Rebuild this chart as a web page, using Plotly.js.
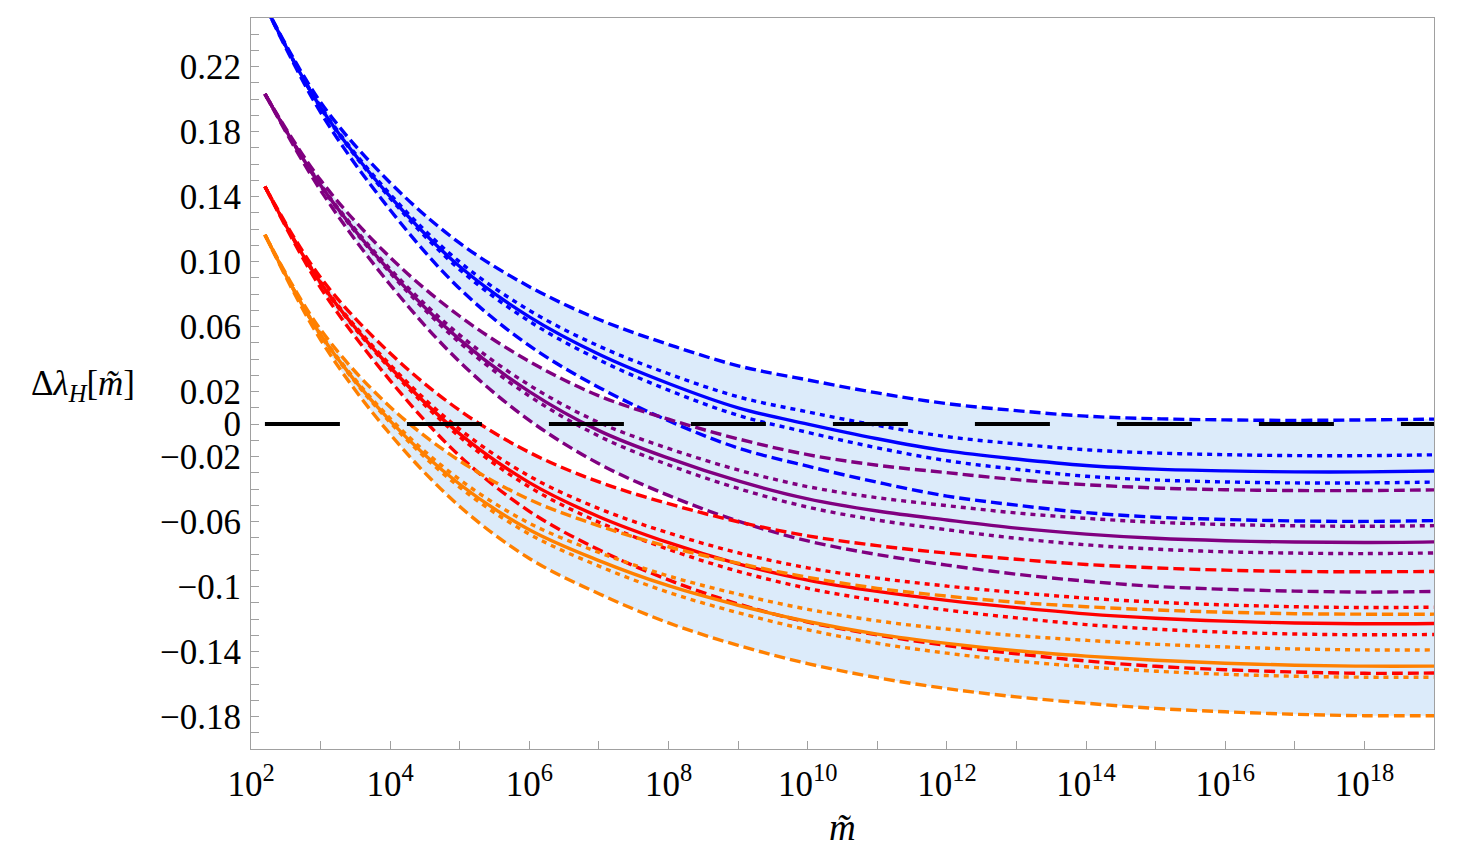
<!DOCTYPE html>
<html>
<head>
<meta charset="utf-8">
<script src="https://cdn.plot.ly/plotly-3.0.1.min.js"></script>
<style>html,body{margin:0;padding:0;background:#fff;}#plot{width:1459px;height:855px;}</style>
</head>
<body>
<div id="plot"></div>
<script>
// x values (m-tilde)
const m = [158.5, 1e3, 1e4, 1e5, 1e6, 1e7, 1e8, 1e9, 1e10, 1e11, 1e12, 1e13, 1e14, 1e15, 1e16, 1e17, 1e18, 1e19];

// Blue group
const blueDashUp  = [0.258, 0.1982, 0.1486, 0.1114, 0.0846, 0.0644, 0.049, 0.0359, 0.0272, 0.0192, 0.0126, 0.0083, 0.0049, 0.0033, 0.0026, 0.0023, 0.0026, 0.0031];
const blueDotUp   = [0.258, 0.1955, 0.1415, 0.0998, 0.070, 0.048, 0.031, 0.0168, 0.0075, -0.0008, -0.0077, -0.0122, -0.0158, -0.0178, -0.0188, -0.0194, -0.0194, -0.0189];
const blueSolid   = [0.258, 0.195, 0.140, 0.097, 0.066, 0.043, 0.025, 0.010, 0.000, -0.009, -0.0165, -0.0215, -0.0255, -0.0277, -0.0288, -0.0294, -0.0294, -0.0289];
const blueDotLow  = [0.258, 0.1947, 0.139, 0.0951, 0.0633, 0.0396, 0.0209, 0.0054, -0.0051, -0.0146, -0.0225, -0.0278, -0.0321, -0.0344, -0.0356, -0.0362, -0.0362, -0.0357];
const blueDashLow = [0.258, 0.1919, 0.1318, 0.0833, 0.0483, 0.0226, 0.0021, -0.0147, -0.0259, -0.0358, -0.0443, -0.0499, -0.0545, -0.0573, -0.0587, -0.0596, -0.0599, -0.0594];

// Purple group
const purpleDashUp  = [0.2033, 0.1502, 0.1026, 0.0664, 0.0386, 0.0174, 0.003, -0.0091, -0.0188, -0.0253, -0.0299, -0.0342, -0.0373, -0.0393, -0.0404, -0.0409, -0.0409, -0.0405];
const purpleDotUp   = [0.2033, 0.1475, 0.0955, 0.0548, 0.024, 0.001, -0.015, -0.0282, -0.0385, -0.0453, -0.0502, -0.0547, -0.058, -0.0604, -0.0618, -0.0626, -0.0629, -0.0625];
const purpleSolid   = [0.2033, 0.147, 0.094, 0.052, 0.020, -0.004, -0.021, -0.035, -0.046, -0.0535, -0.059, -0.064, -0.0677, -0.0703, -0.0718, -0.0726, -0.0729, -0.0725];
const purpleDotLow  = [0.2033, 0.1467, 0.093, 0.0501, 0.0173, -0.0074, -0.0251, -0.0396, -0.0511, -0.0591, -0.065, -0.0703, -0.0743, -0.077, -0.0786, -0.0794, -0.0797, -0.0793];
const purpleDashLow = [0.2033, 0.1439, 0.0858, 0.0383, 0.0023, -0.0244, -0.0439, -0.0597, -0.0719, -0.0803, -0.0868, -0.0924, -0.0967, -0.0999, -0.1017, -0.1028, -0.1034, -0.103];

// Red group
const redDashUp  = [0.1463, 0.0902, 0.0436, 0.0084, -0.0174, -0.0356, -0.049, -0.0601, -0.0688, -0.0748, -0.0794, -0.0832, -0.0864, -0.0885, -0.0899, -0.0907, -0.0909, -0.0907];
const redDotUp   = [0.1463, 0.0875, 0.0365, -0.0032, -0.032, -0.052, -0.067, -0.0792, -0.0885, -0.0948, -0.0997, -0.1037, -0.1071, -0.1096, -0.1113, -0.1124, -0.1129, -0.1127];
const redSolid   = [0.1463, 0.087, 0.035, -0.006, -0.036, -0.057, -0.073, -0.086, -0.096, -0.103, -0.1085, -0.113, -0.1168, -0.1195, -0.1213, -0.1224, -0.1229, -0.1227];
const redDotLow  = [0.1463, 0.0867, 0.034, -0.0079, -0.0387, -0.0604, -0.0771, -0.0906, -0.1011, -0.1086, -0.1145, -0.1193, -0.1234, -0.1262, -0.1281, -0.1292, -0.1297, -0.1295];
const redDashLow = [0.1463, 0.0839, 0.0268, -0.0197, -0.0537, -0.0774, -0.0959, -0.1107, -0.1219, -0.1298, -0.1363, -0.1414, -0.1458, -0.1491, -0.1512, -0.1526, -0.1534, -0.1532];

// Orange group
const orangeDashUp  = [0.1166, 0.0582, 0.0106, -0.0226, -0.0464, -0.0626, -0.0755, -0.0856, -0.0943, -0.1011, -0.1059, -0.1097, -0.1124, -0.1144, -0.1158, -0.1167, -0.117, -0.117];
const orangeDotUp   = [0.1166, 0.0555, 0.0035, -0.0342, -0.061, -0.079, -0.0935, -0.1047, -0.114, -0.1211, -0.1262, -0.1302, -0.1331, -0.1355, -0.1372, -0.1384, -0.139, -0.139];
const orangeSolid   = [0.1166, 0.055, 0.002, -0.037, -0.065, -0.084, -0.0995, -0.1115, -0.1215, -0.1293, -0.135, -0.1395, -0.1428, -0.1454, -0.1472, -0.1484, -0.149, -0.149];
const orangeDotLow  = [0.1166, 0.0547, 0.001, -0.0389, -0.0677, -0.0874, -0.1036, -0.1161, -0.1266, -0.1349, -0.141, -0.1458, -0.1494, -0.1521, -0.154, -0.1552, -0.1558, -0.1558];
const orangeDashLow = [0.1166, 0.0519, -0.0062, -0.0507, -0.0827, -0.1044, -0.1224, -0.1362, -0.1474, -0.1561, -0.1628, -0.1679, -0.1718, -0.175, -0.1771, -0.1786, -0.1795, -0.1795];

// Zero reference line
const zeroLineX = [158.5, 1e19];
const zeroLineY = [0, 0];

// Tick labels
const xTickVals = [1e2,1e3,1e4,1e5,1e6,1e7,1e8,1e9,1e10,1e11,1e12,1e13,1e14,1e15,1e16,1e17,1e18];
const xTickText = ['10<sup>2</sup>','','10<sup>4</sup>','','10<sup>6</sup>','','10<sup>8</sup>','','10<sup>10</sup>','','10<sup>12</sup>','','10<sup>14</sup>','','10<sup>16</sup>','','10<sup>18</sup>'];
const yTickVals = [-0.19,-0.18,-0.17,-0.16,-0.15,-0.14,-0.13,-0.12,-0.11,-0.1,-0.09,-0.08,-0.07,-0.06,-0.05,-0.04,-0.03,-0.02,-0.01,0,0.01,0.02,0.03,0.04,0.05,0.06,0.07,0.08,0.09,0.1,0.11,0.12,0.13,0.14,0.15,0.16,0.17,0.18,0.19,0.2,0.21,0.22,0.23,0.24];
const yTickText = ['','\u22120.18','','','','\u22120.14','','','','\u22120.1','','','','\u22120.06','','','','\u22120.02','','0','','0.02','','','','0.06','','','','0.10','','','','0.14','','','','0.18','','','','0.22','',''];

const groups = [
  {color:'#0000ff', lines:[blueDashUp, blueDotUp, blueSolid, blueDotLow, blueDashLow]},
  {color:'#800080', lines:[purpleDashUp, purpleDotUp, purpleSolid, purpleDotLow, purpleDashLow]},
  {color:'#ff0000', lines:[redDashUp, redDotUp, redSolid, redDotLow, redDashLow]},
  {color:'#ff8000', lines:[orangeDashUp, orangeDotUp, orangeSolid, orangeDotLow, orangeDashLow]}
];
const fillColor = '#dcebfa';
const dashStyles = ['11px,5px','5px,5px','solid','5px,5px','11px,5px'];

const traces = [];
groups.forEach(g => {
  traces.push({x:m, y:g.lines[4], mode:'lines', line:{width:0, shape:'spline'}, hoverinfo:'skip', showlegend:false});
  traces.push({x:m, y:g.lines[0], mode:'lines', fill:'tonexty', fillcolor:fillColor, line:{width:0, shape:'spline'}, hoverinfo:'skip', showlegend:false});
});
groups.forEach(g => {
  g.lines.forEach((ys, i) => {
    traces.push({x:m, y:ys, mode:'lines', line:{color:g.color, width:3.4, dash:dashStyles[i], shape:'spline'}, showlegend:false});
  });
});
traces.push({x:zeroLineX, y:zeroLineY, mode:'lines', line:{color:'#000', width:4, dash:'75px,67px'}, showlegend:false});

const axisColor = '#a0a0a0';
const serif = 'Liberation Serif';
const tickFont = {family:serif, size:35, color:'#000'};
const layout = {
  width:1459, height:855,
  margin:{l:251, r:25, t:18, b:106},
  paper_bgcolor:'#fff', plot_bgcolor:'#fff',
  font:{family:serif, color:'#000'},
  showlegend:false,
  xaxis:{type:'log', range:[2,19], showline:true, linecolor:axisColor, linewidth:1, mirror:true,
         ticks:'inside', ticklen:8, tickcolor:axisColor, tickwidth:1,
         tickmode:'array', tickvals:xTickVals, ticktext:xTickText,
         showgrid:false, zeroline:false, tickfont:tickFont, ticklabelstandoff:4},
  yaxis:{range:[-0.2,0.25], showline:true, linecolor:axisColor, linewidth:1, mirror:true,
         ticks:'inside', ticklen:8, tickcolor:axisColor, tickwidth:1,
         tickmode:'array', tickvals:yTickVals, ticktext:yTickText,
         showgrid:false, zeroline:false, tickfont:tickFont, ticklabelstandoff:2},
  annotations:[
    {xref:'paper', yref:'paper', x:0.5, y:-0.108, xanchor:'center', yanchor:'middle', showarrow:false,
     text:'<i>m\u0303</i>', font:{family:serif, size:37, color:'#000'}},
    {xref:'paper', yref:'paper', x:-0.096, y:0.497, xanchor:'right', yanchor:'middle', showarrow:false,
     text:'\u0394<i>\u03bb</i><sub><i>H</i></sub>[<i>m\u0303</i>]', font:{family:serif, size:35, color:'#000'}}
  ]
};
Plotly.newPlot('plot', traces, layout, {staticPlot:true, displayModeBar:false});
</script>
</body>
</html>
